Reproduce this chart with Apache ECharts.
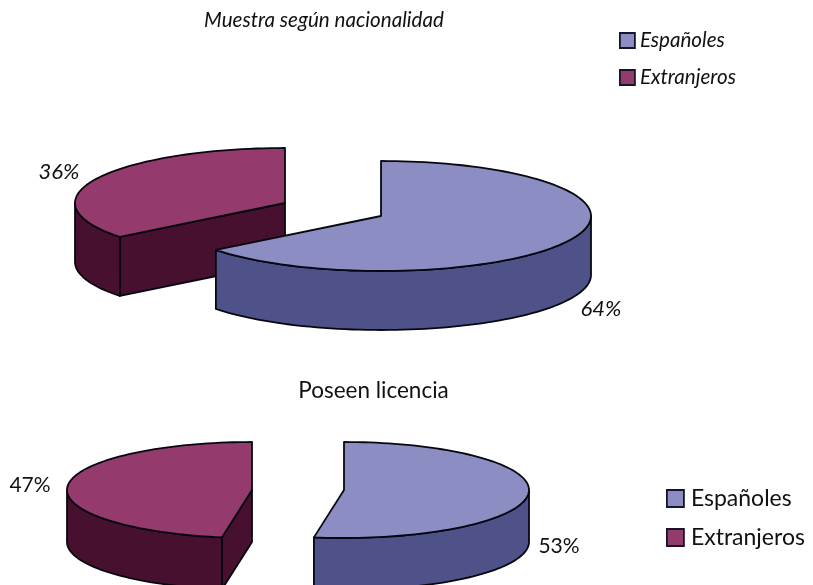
<!DOCTYPE html>
<html><head><meta charset="utf-8">
<style>html,body{margin:0;padding:0;background:#fff}#c{width:813px;height:585px}</style>
<script src="https://cdn.jsdelivr.net/npm/echarts@6/dist/echarts.min.js"></script>
</head><body><div id="c"></div>
<script>
const categories = ['Españoles', 'Extranjeros'];
const nacionalidad = [64.4, 35.6];
const licencia = [52.6, 47.4];
const titles = ['Muestra según nacionalidad', 'Poseen licencia'];

const topColors = ['#8b8dc3', '#943a6c'];
const sideColors = ['#4e5289', '#48102f'];
const edge = '#07070f';
const FONT = 'Lato, "Noto Sans", sans-serif';

// layout of each exploded slice: [chart][slice]
const geo = [
  { rx: 210, ry: 55, depth: 59, labelFont: 'italic 22px ',
    centers: [[381, 216], [285, 203]], labels: [[601, 309], [59, 172]] },
  { rx: 185, ry: 48, depth: 52, labelFont: 'normal 21px ',
    centers: [[344, 490], [252, 490]], labels: [[559, 546], [30, 485]] }
];

function slice(values, chart, idx) {
  const g = geo[chart];
  const total = values.reduce((a, b) => a + b, 0);
  const before = values.slice(0, idx).reduce((a, b) => a + b, 0);
  const a0 = before / total * 360, a1 = (before + values[idx]) / total * 360;
  const [cx, cy] = g.centers[idx];
  const pt = (deg, dy) => {
    const r = deg * Math.PI / 180;
    return [cx + g.rx * Math.sin(r), cy - g.ry * Math.cos(r) + (dy || 0)];
  };
  const arc = (from, to, dy) => {
    const out = [], n = Math.max(2, Math.ceil(Math.abs(to - from) / 2));
    for (let i = 0; i <= n; i++) out.push(pt(from + (to - from) * i / n, dy));
    return out;
  };
  const poly = (points, fill) => ({
    type: 'polygon', shape: { points },
    style: { fill, stroke: edge, lineWidth: 1.8, lineJoin: 'round' }
  });
  const d = g.depth, children = [];
  const face = deg => {
    const p = pt(deg);
    children.push(poly([[cx, cy], p, [p[0], p[1] + d], [cx, cy + d]], sideColors[idx]));
  };
  if (Math.sin(a0 * Math.PI / 180) < -1e-6) face(a0);
  if (Math.sin(a1 * Math.PI / 180) > 1e-6) face(a1);
  const w0 = Math.max(a0, 90), w1 = Math.min(a1, 270);
  if (w1 > w0) {
    children.push(poly(arc(w0, w1, 0).concat(arc(w1, w0, d)), sideColors[idx]));
  }
  children.push(poly([[cx, cy]].concat(arc(a0, a1, 0)), topColors[idx]));
  const [lx, ly] = g.labels[idx];
  children.push({
    type: 'text', z2: 50,
    style: {
      text: Math.round(values[idx] / total * 100) + '%',
      x: lx, y: ly, align: 'center', verticalAlign: 'middle',
      fill: '#111', font: g.labelFont + FONT
    }
  });
  return { type: 'group', children };
}

const makeSeries = (values, chart, idx) => ({
  type: 'custom', name: categories[idx], coordinateSystem: 'none',
  itemStyle: { color: topColors[idx] }, z: 2 + chart * 2 + (idx === 0 ? 1 : 0),
  data: [values[idx]],
  renderItem: () => slice(values, chart, idx)
});

const chart = echarts.init(document.getElementById('c'), null, { renderer: 'canvas' });
chart.setOption({
  animation: false,
  backgroundColor: '#fff',
  title: [
    { text: titles[0], left: 319, top: 5, textAlign: 'center',
      textStyle: { fontFamily: FONT, fontSize: 20.6, fontWeight: 'normal', fontStyle: 'italic', color: '#111' } },
    { text: titles[1], left: 368.5, top: 374, textAlign: 'center',
      textStyle: { fontFamily: FONT, fontSize: 22.5, fontWeight: 'normal', color: '#111' } }
  ],
  legend: [
    { data: categories, orient: 'vertical', left: 619, top: 30, padding: 0, selectedMode: false,
      icon: 'rect', itemWidth: 15, itemHeight: 15, itemGap: 16,
      itemStyle: { borderColor: '#15152a', borderWidth: 1.8 },
      textStyle: { fontFamily: FONT, fontSize: 20.6, fontStyle: 'italic', color: '#111' } },
    { data: categories, orient: 'vertical', left: 666, top: 487, padding: 0, selectedMode: false,
      icon: 'rect', itemWidth: 17, itemHeight: 17, itemGap: 16,
      itemStyle: { borderColor: '#15152a', borderWidth: 1.8 },
      textStyle: { fontFamily: FONT, fontSize: 23, color: '#111', padding: [0, 0, 0, 2] } }
  ],
  series: [
    makeSeries(nacionalidad, 0, 1), makeSeries(nacionalidad, 0, 0),
    makeSeries(licencia, 1, 1), makeSeries(licencia, 1, 0)
  ]
});
</script></body></html>
